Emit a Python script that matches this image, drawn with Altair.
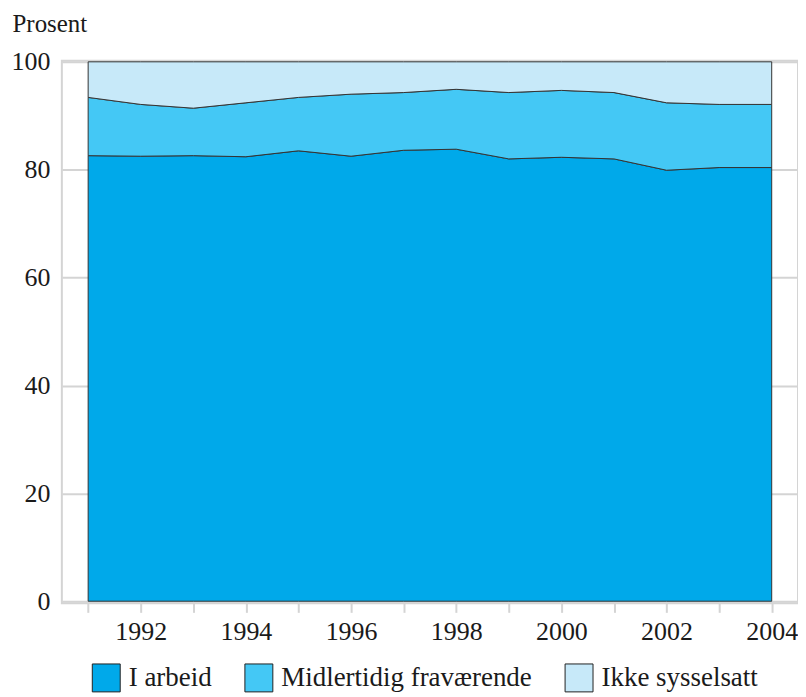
import altair as alt
import pandas as pd

years = list(range(1991, 2005))
i_arbeid = [82.6, 82.5, 82.6, 82.4, 83.5, 82.5, 83.6, 83.8, 82.0, 82.3, 82.0, 79.9, 80.4, 80.4]
upper = [93.4, 92.1, 91.4, 92.4, 93.4, 94.0, 94.3, 94.9, 94.3, 94.7, 94.3, 92.4, 92.1, 92.1]
midlertidig = [round(u - a, 2) for u, a in zip(upper, i_arbeid)]
ikke = [round(100 - u, 2) for u in upper]

series = ["I arbeid", "Midlertidig fraværende", "Ikke sysselsatt"]
colors = ["#00A9EA", "#44C8F5", "#C7E9F9"]

rows = []
for name, vals in zip(series, [i_arbeid, midlertidig, ikke]):
    for i, (y, v) in enumerate(zip(years, vals)):
        rows.append({"År": y, "Serie": name, "Prosent": v, "ord": series.index(name)})
df = pd.DataFrame(rows)

FONT = "Liberation Serif"

chart = alt.Chart(df).mark_area(stroke="#333333", strokeWidth=1, interpolate="linear").encode(
    x=alt.X("År:Q",
            scale=alt.Scale(domain=[1990.5, 2004.5], nice=False, zero=False),
            axis=alt.Axis(values=years, labelExpr="datum.value % 2 == 0 ? datum.value : ''",
                          title=None, grid=False, domain=False, ticks=True, tickColor="#d4d4d4",
                          tickWidth=2, tickSize=9, labelFont=FONT, labelFontSize=26,
                          labelColor="#1a1a1a", labelPadding=6, labelFlush=False)),
    y=alt.Y("Prosent:Q", stack="zero",
            scale=alt.Scale(domain=[-0.4, 100.2], nice=False, zero=False),
            axis=alt.Axis(values=[0, 20, 40, 60, 80, 100], title="Prosent", titleAngle=0,
                          titleAlign="left", titleBaseline="alphabetic", titleX=-50, titleY=-29,
                          titleFont=FONT, titleFontSize=25, titleFontWeight="normal",
                          titleColor="#1a1a1a",
                          grid=True, gridColor="#d4d4d4", gridWidth=2, domain=False, ticks=False,
                          labelFont=FONT, labelFontSize=26, labelColor="#1a1a1a", labelPadding=12)),
    color=alt.Color("Serie:N", scale=alt.Scale(domain=series, range=colors),
                    legend=alt.Legend(title=None, orient="none", direction="horizontal",
                                      legendX=30, legendY=604, symbolType="square",
                                      symbolSize=784, symbolStrokeColor="#222222",
                                      symbolStrokeWidth=1, symbolOpacity=1,
                                      labelFont=FONT, labelFontSize=27, labelColor="#1a1a1a",
                                      labelOffset=8, columnPadding=30, labelLimit=400)),
    order=alt.Order("ord:Q"),
).properties(
    width=738, height=544,
    autosize=alt.AutoSizeParams(type="none"),
    padding={"left": 54, "top": 52, "right": 0, "bottom": 90},
).configure_view(stroke="#d4d4d4", strokeWidth=2)

chart.save("out.html", embed_options={"renderer": "svg", "actions": False})
